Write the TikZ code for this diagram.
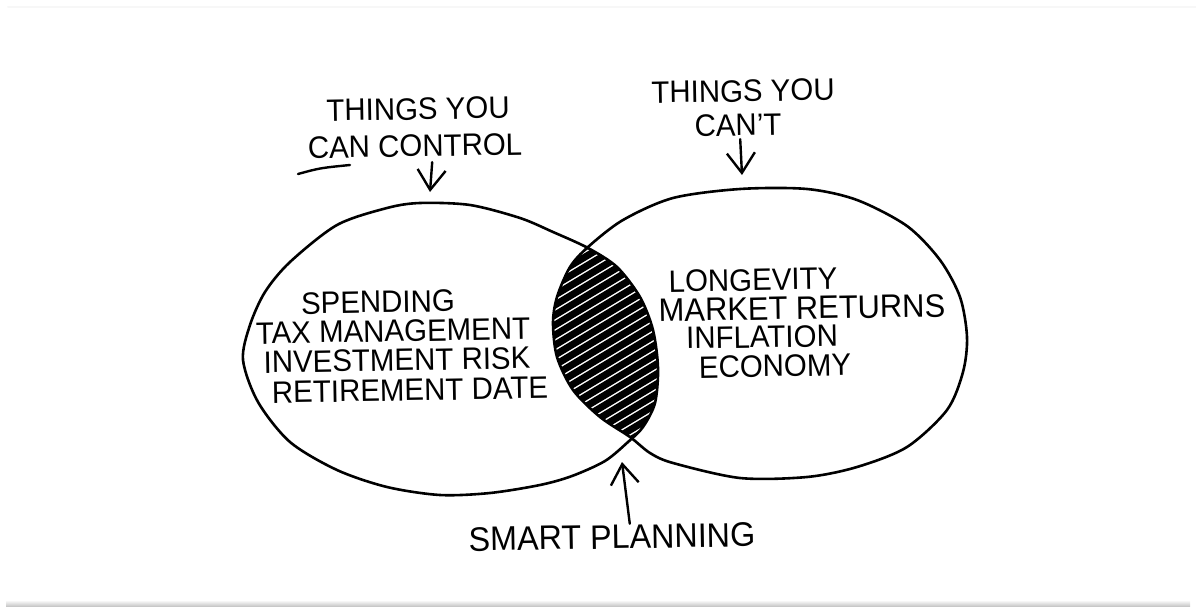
\documentclass[tikz,border=0pt]{standalone}
\usepackage{fontspec}
\setmainfont{Liberation Sans}[FakeStretch=0.95]
\usetikzlibrary{arrows.meta}

% the two hand drawn rings
\newcommand\leftring{plot[smooth cycle] coordinates {(420,203) (470,205) (520,218) (553,232) (588,248) (617,267) (640,297) (653,330) (658,368) (655,403) (643,427) (628,442) (605,461) (572,476) (540,485) (490,493) (440,495) (387,487) (337,470) (290,442) (258,402) (243,360) (250,325) (265,292) (290,262) (337,225) (387,208)}}
\newcommand\rightring{plot[smooth cycle] coordinates {(588,247) (623,220) (673,198) (740,189) (807,189) (857,200) (907,226) (940,260) (960,297) (967,337) (963,372) (947,410) (907,447) (857,467) (807,477) (740,478) (673,463) (650,453) (630,437) (600,417) (573,390) (557,357) (553,323) (557,297) (570,267)}}

\begin{document}
\begin{tikzpicture}[x=1pt, y=-1pt, line join=round, line cap=round,
		>={Straight Barb[length=20pt, width=28pt, line width=2.4pt]},
		hand/.style={font=\fontsize{31}{31}\selectfont, inner sep=0pt, rotate=1},
		ring/.style={line width=2.6pt},
		scrib/.style={line width=7pt},
		arr/.style={->, line width=2.4pt}
		]
		\useasboundingbox (0,0) rectangle (1196,607);
		\draw[gray!6, line width=2pt] (8,7)--(1196,7);
		\shade[top color=white, bottom color=gray!50] (6,600) rectangle (1190,607);
		% lens between the rings
		\begin{scope}
			\clip \leftring;
			\clip \rightring;
			\foreach \y in {270,280,...,510}
				\draw[scrib] (530,\y)--(680,\y-90);
		\end{scope}
		\draw[ring] \leftring;
		\draw[ring] \rightring;
		% headings
		\node[hand] (things) at (418,109) {THINGS YOU};
		\node[hand] (ctrl) at (415,146) {CAN CONTROL};
		\draw[line width=2.4pt] (298,174) .. controls (320,168) .. (350,165);
		\node[hand] (thingsb) at (743,91) {THINGS YOU};
		\node[hand] (cant) at (738,125) {CAN'T};
		\coordinate (ctrltip) at (430,192);
		\coordinate (canttip) at (742,175);
		\draw[arr] (ctrl.south) ++(17,5)--(ctrltip);
		\draw[arr] (cant.south) ++(2,3)--(canttip);
		% left ring
		\node[hand] (spend) at (378,302) {SPENDING};
		\node[hand] (tax) at (393,331) {TAX MANAGEMENT};
		\node[hand] (invest) at (397,360) {INVESTMENT RISK};
		\node[hand] (retire) at (410,390) {RETIREMENT DATE};
		% right ring
		\node[hand] (longev) at (753,280) {LONGEVITY};
		\node[hand, font=\fontsize{32.5}{32.5}\selectfont] (market) at (802,308) {MARKET RETURNS};
		\node[hand] (infl) at (762,337) {INFLATION};
		\node[hand] (econ) at (775,366) {ECONOMY};
		% bottom
		\node[hand, font=\fontsize{34}{34}\selectfont] (smart) at (612,537) {SMART PLANNING};
		\coordinate (smarttip) at (622,462);
		\draw[arr] (smart.north) ++(18,-1)--(smarttip);
\end{tikzpicture}
\end{document}
